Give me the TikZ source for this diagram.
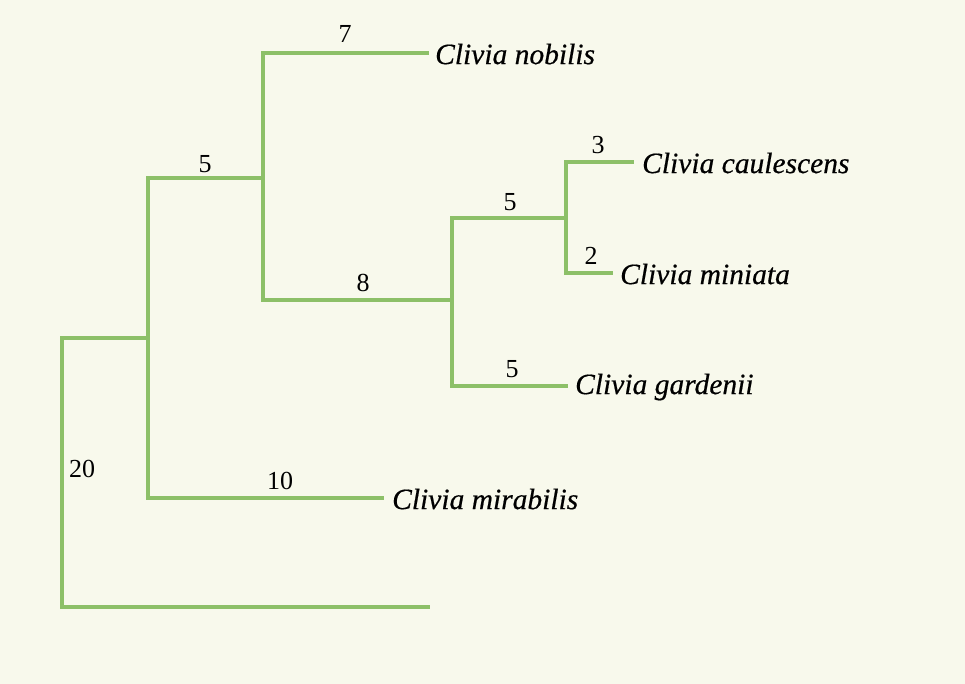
\documentclass[tikz,border=0pt]{standalone}
\usepackage{fontspec}
\setmainfont{Liberation Serif}[ItalicFeatures={FakeBold=0.5}]
\begin{document}
\begin{tikzpicture}[x=1pt,y=-1pt,
  branch/.style={draw=branchgreen,line width=4pt,line cap=rect},
  taxon/.style={anchor=west,inner sep=0pt,font=\fontsize{29.5}{33}\selectfont\itshape},
  blen/.style={inner sep=0pt,font=\fontsize{26}{29}\selectfont}]
\definecolor{branchgreen}{HTML}{8DC068}
\definecolor{paper}{HTML}{F8F9EC}
\fill[paper] (0,0) rectangle (965,684);
\useasboundingbox (0,0) rectangle (965,684);
% internal nodes
\coordinate (root) at (62,338);
\coordinate (rootlow) at (62,607);
\coordinate (og) at (428,607);
\coordinate (nA) at (148,338);
\coordinate (nAt) at (148,178);
\coordinate (nAb) at (148,498);
\coordinate (nB) at (263,178);
\coordinate (nBt) at (263,53);
\coordinate (nBb) at (263,300);
\coordinate (nC) at (452,300);
\coordinate (nCt) at (452,218);
\coordinate (nCb) at (452,386);
\coordinate (nD) at (566,218);
\coordinate (nDt) at (566,162);
\coordinate (nDb) at (566,273);
% tips
\coordinate (tNob) at (427,53);
\coordinate (tMir) at (382,498);
\coordinate (tGar) at (566,386);
\coordinate (tCau) at (632,162);
\coordinate (tMin) at (611,273);
% taxon labels
\node[taxon] (nobilis) at (435,54) {Clivia nobilis};
\node[taxon] (caulescens) at (642,163) {Clivia caulescens};
\node[taxon] (miniata) at (620,274) {Clivia miniata};
\node[taxon] (gardenii) at (575,387) {Clivia gardenii};
\node[taxon] (mirabilis) at (392,499) {Clivia mirabilis};
% branches
\draw[branch] (og) -- (rootlow) -- (root) -- (nA);
\draw[branch] (nAb) -- (nAt);
\draw[branch] (nAt) -- (nB);
\draw[branch] (nAb) -- (tMir);
\draw[branch] (nBt) -- (nBb);
\draw[branch] (nBt) -- (tNob);
\draw[branch] (nBb) -- (nC);
\draw[branch] (nCt) -- (nCb);
\draw[branch] (nCt) -- (nD);
\draw[branch] (nCb) -- (tGar);
\draw[branch] (nDt) -- (nDb);
\draw[branch] (nDt) -- (tCau);
\draw[branch] (nDb) -- (tMin);
% branch lengths
\node[blen] (l7) at (345,34) {7};
\node[blen] (l5a) at (205,164) {5};
\node[blen] (l8) at (363,283) {8};
\node[blen] (l5b) at (510,202) {5};
\node[blen] (l3) at (598,145) {3};
\node[blen] (l2) at (591,256) {2};
\node[blen] (l5c) at (512,369) {5};
\node[blen] (l10) at (280,481) {10};
\node[blen] (l20) at (82,469) {20};
\end{tikzpicture}
\end{document}
